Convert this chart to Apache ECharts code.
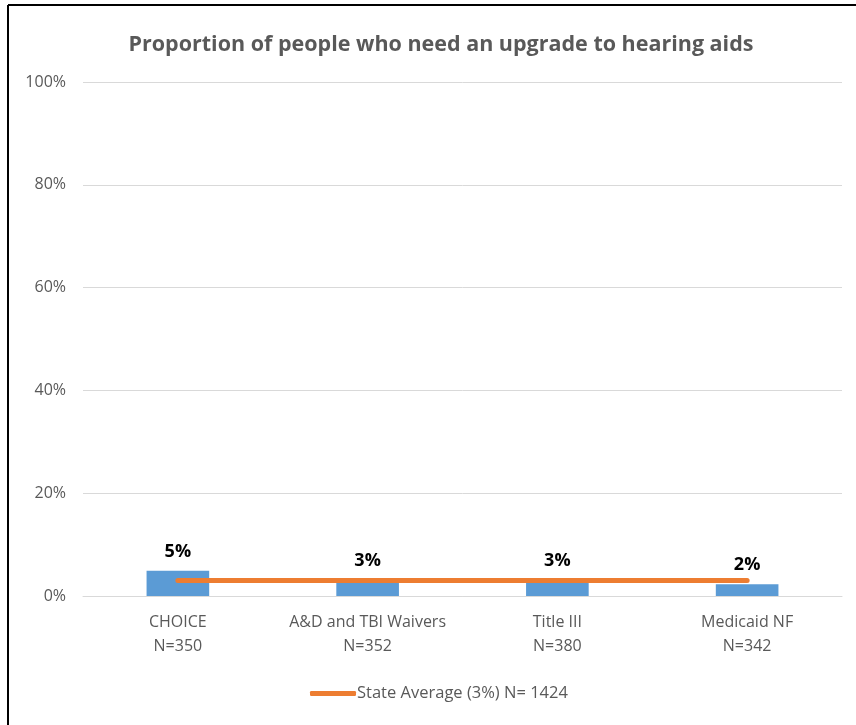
<!DOCTYPE html>
<html>
<head>
<meta charset="utf-8">
<script src="https://cdn.jsdelivr.net/npm/echarts@6/dist/echarts.min.js"></script>
<style>
html,body{margin:0;padding:0;background:#fff;}
#chart{width:856px;height:725px;}
</style>
</head>
<body>
<div id="chart"></div>
<script>
const categories = ['CHOICE\nN=350', 'A&D and TBI Waivers\nN=352', 'Title III\nN=380', 'Medicaid NF\nN=342'];
const barValues = [4.9, 3.1, 3.1, 2.3];
const barLabels = ['5%', '3%', '3%', '2%'];
const stateAverage = [3, 3, 3, 3];
const lineName = 'State Average (3%) N= 1424';
const yTicks = [0, 20, 40, 60, 80, 100];

const font = '"Open Sans", sans-serif';
const chart = echarts.init(document.getElementById('chart'));
chart.setOption({
  animation: false,
  backgroundColor: '#fff',
  title: {
    text: 'Proportion of people who need an upgrade to hearing aids',
    left: 436,
    textAlign: 'center',
    top: 29,
    textStyle: { fontFamily: font, fontSize: 21.5, fontWeight: 'bold', color: '#595959' }
  },
  graphic: [
    { type: 'line', shape: { x1: 8, y1: 5, x2: 856, y2: 5 }, style: { stroke: '#000', lineWidth: 2 } },
    { type: 'line', shape: { x1: 8, y1: 5, x2: 8, y2: 725 }, style: { stroke: '#000', lineWidth: 2 } }
  ],
  grid: { left: 83, right: 14, top: 82, bottom: 129, containLabel: false },
  legend: {
    data: [{ name: lineName }],
    bottom: 18,
    left: 305,
    itemWidth: 46,
    itemHeight: 5,
    itemGap: 0,
    textStyle: { fontFamily: font, fontSize: 16.5, color: '#595959', padding: [0,0,0,-4] },
    icon: 'roundRect'
  },
  xAxis: {
    type: 'category',
    data: categories,
    axisLine: { lineStyle: { color: '#D9D9D9', width: 1 } },
    axisTick: { show: false },
    axisLabel: { interval: 0, fontFamily: font, fontSize: 16, color: '#595959', lineHeight: 24, margin: 14 }
  },
  yAxis: {
    type: 'value',
    min: 0, max: 100, interval: 20,
    axisLine: { show: false },
    axisTick: { show: false },
    splitLine: { lineStyle: { color: '#D9D9D9', width: 1 } },
    axisLabel: {
      fontFamily: font, fontSize: 16, color: '#595959', margin: 17,
      formatter: v => yTicks.includes(v) ? v + '%' : ''
    }
  },
  series: [
    {
      type: 'bar',
      name: 'Proportion',
      data: barValues,
      barWidth: '33%',
      itemStyle: { color: '#5B9BD5' },
      label: {
        show: true,
        position: 'top',
        distance: 10,
        fontFamily: font, fontSize: 18, fontWeight: 'bold', color: '#000',
        formatter: p => barLabels[p.dataIndex]
      }
    },
    {
      type: 'line',
      name: lineName,
      data: stateAverage,
      symbol: 'none',
      lineStyle: { color: '#ED7D31', width: 5, cap: 'round' },
      itemStyle: { color: '#ED7D31' },
      z: 5
    }
  ]
});
</script>
</body>
</html>
